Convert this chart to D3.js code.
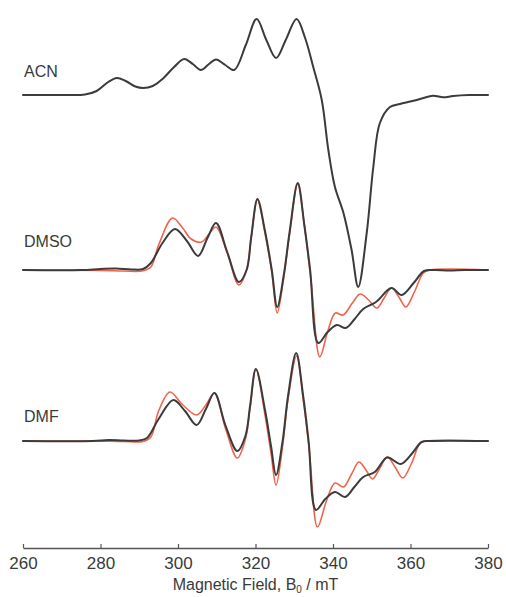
<!DOCTYPE html>
<html>
<head>
<meta charset="utf-8">
<script src="https://cdn.jsdelivr.net/npm/d3@7/dist/d3.min.js"></script>
<style>
  html, body { margin: 0; padding: 0; background: #ffffff; }
  svg { display: block; }
  text { font-family: "Liberation Sans", Arial, Helvetica, sans-serif; fill: #3a3a3a; }
</style>
</head>
<body>
<svg id="chart" width="506" height="597"></svg>
<script>
// ---------- data (field in mT, signal in arbitrary units relative to each trace's baseline) ----------
const xTicks = [260, 280, 300, 320, 340, 360, 380];
const solvents = ["ACN", "DMSO", "DMF"];
const offsets = [0, -1.75, -3.46];

const acnExp = [
  [260,0],[270,0],[276,0.005],[279,0.04],[282,0.13],[284.2,0.17],[286.5,0.14],[289,0.085],[291,0.07],
  [293.5,0.09],[296,0.16],[299,0.28],[301.6,0.36],[303.8,0.31],[305.9,0.25],[308,0.31],[309.8,0.355],
  [312.2,0.30],[314.5,0.25],[317.5,0.50],[320.3,0.76],[322.8,0.55],[325.3,0.37],[327.8,0.55],[330.6,0.76],
  [332.8,0.57],[334.9,0.28],[337.1,-0.05],[338.8,-0.55],[340.5,-0.92],[342.7,-1.18],[344.8,-1.55],
  [346.5,-1.92],[348.7,-1.38],[350.4,-0.72],[352.1,-0.28],[354.7,-0.12],[357.3,-0.09],[361.6,-0.05],
  [365.8,-0.007],[368.4,-0.023],[371,-0.01],[375,0],[380,0]
];

const dmsoExp = [
  [260,0],[275,0],[280,0.01],[284,0.015],[288,0.005],[291,0.01],[293,0.07],[296,0.27],[299.2,0.41],
  [302.3,0.29],[305.2,0.14],[307.6,0.32],[309.8,0.47],[312.7,0.18],[315.7,-0.12],[317.7,0.0],[318.9,0.33],
  [320.5,0.71],[322.4,0.4],[324.2,0.0],[325.6,-0.37],[327.3,-0.05],[328.8,0.38],[330.9,0.87],[332.6,0.45],
  [334.1,0.0],[336.2,-0.73],[338.6,-0.62],[341,-0.55],[343.3,-0.58],[345.6,-0.49],[347.8,-0.39],
  [351.1,-0.32],[355.1,-0.18],[357.7,-0.25],[360.8,-0.13],[363.5,-0.01],[366,0],[370,-0.005],[374,0],[380,0]
];

const dmsoSim = [
  [260,0],[280,-0.005],[286,-0.01],[291,-0.008],[293,0.03],[295,0.25],[298.6,0.52],[301.2,0.42],
  [303.4,0.31],[306.1,0.28],[308,0.36],[309.8,0.43],[312.7,0.17],[315.7,-0.15],[317.7,0.0],[318.9,0.33],
  [320.5,0.70],[322.4,0.38],[324.2,-0.02],[325.6,-0.43],[327.3,-0.07],[328.8,0.36],[330.9,0.86],
  [332.6,0.45],[334.3,-0.1],[336.6,-0.87],[338.6,-0.62],[340.6,-0.43],[342.6,-0.45],[345,-0.33],
  [347,-0.24],[349.2,-0.30],[351.3,-0.38],[353.2,-0.28],[355.1,-0.18],[357,-0.27],[358.8,-0.37],
  [361,-0.22],[363.3,-0.03],[365,0],[380,0]
];

const dmfExp = [
  [260,0],[278,0],[282,0.01],[286,0.005],[290,0.005],[292,0.03],[295,0.22],[298.8,0.41],[301.8,0.30],
  [304.8,0.16],[307.2,0.32],[309.4,0.48],[312.3,0.15],[315.3,-0.10],[317.4,0.05],[318.6,0.35],
  [320.1,0.72],[322.5,0.3],[324.0,-0.05],[325.3,-0.34],[327.0,0.0],[328.4,0.45],[330.5,0.88],
  [332.3,0.45],[333.7,0.0],[335.6,-0.69],[338,-0.58],[340.5,-0.51],[343.1,-0.56],[345.5,-0.46],
  [347.8,-0.36],[350.8,-0.31],[354,-0.165],[357.5,-0.23],[360.5,-0.12],[362.9,-0.01],[365,0],[380,0]
];

const dmfSim = [
  [260,0],[278,0],[286,-0.005],[291,-0.005],[293,0.04],[295,0.3],[297.9,0.49],[301,0.37],
  [304.8,0.26],[307.2,0.36],[309.4,0.48],[312.3,0.12],[315.3,-0.17],[317.4,0.02],[318.6,0.33],
  [320.1,0.72],[322.5,0.25],[324.0,-0.12],[325.3,-0.44],[327.0,-0.05],[328.4,0.42],[330.6,0.85],
  [332.3,0.42],[333.9,-0.1],[336.0,-0.86],[338.3,-0.6],[340.5,-0.42],[342.7,-0.46],[344.8,-0.33],
  [346.7,-0.21],[348.5,-0.29],[350.2,-0.38],[352.1,-0.27],[354,-0.157],[356,-0.26],[358,-0.37],
  [360.3,-0.22],[362.5,-0.02],[364,0],[380,0]
];

// ---------- scales ----------
const svg = d3.select("#chart");
const x = d3.scaleLinear().domain([260, 380]).range([23, 488]);
const y = d3.scaleLinear().domain([-4.53, 0.95]).range([548, 0]);

const line = (offset) => d3.line()
  .x(d => x(d[0]))
  .y(d => y(d[1] + offset))
  .curve(d3.curveCatmullRom.alpha(0.5));

const traces = [
  { data: dmsoSim, offset: offsets[1], color: "#f2634c", width: 1.6 },
  { data: dmfSim,  offset: offsets[2], color: "#f2634c", width: 1.6 },
  { data: acnExp,  offset: offsets[0], color: "#3b3b3b", width: 2 },
  { data: dmsoExp, offset: offsets[1], color: "#3b3b3b", width: 2 },
  { data: dmfExp,  offset: offsets[2], color: "#3b3b3b", width: 2 }
];

svg.selectAll("path.trace").data(traces).enter().append("path")
  .attr("class", "trace")
  .attr("fill", "none")
  .attr("stroke", d => d.color)
  .attr("stroke-width", d => d.width)
  .attr("stroke-linejoin", "round")
  .attr("stroke-linecap", "round")
  .attr("d", d => line(d.offset)(d.data));

// solvent labels
const labelDy = [-18, -23, -19];
svg.selectAll("text.solvent").data(solvents).enter().append("text")
  .attr("class", "solvent")
  .attr("x", x(260) + 1)
  .attr("y", (d, i) => y(offsets[i]) + labelDy[i])
  .attr("font-size", 16)
  .text(d => d);

// x axis
const axis = d3.axisBottom(x).tickValues(xTicks).tickSizeInner(-4).tickSizeOuter(0).tickPadding(9)
  .tickFormat(d3.format("d"));
const gx = svg.append("g").attr("transform", `translate(0,${y.range()[0]})`).call(axis);
gx.select(".domain").attr("stroke", "#555").attr("stroke-width", 1.3);
gx.selectAll(".tick line").attr("stroke", "#555").attr("stroke-width", 1.2);
gx.selectAll(".tick text")
  .attr("font-size", 17)
  .attr("font-family", "'Liberation Sans', Arial, sans-serif")
  .attr("fill", "#3a3a3a");

// axis title
const title = svg.append("text")
  .attr("x", (x.range()[0] + x.range()[1]) / 2)
  .attr("y", 590)
  .attr("text-anchor", "middle")
  .attr("font-size", 16);
title.append("tspan").text("Magnetic Field, B");
title.append("tspan").attr("font-size", 10).attr("dy", 3).text("0");
title.append("tspan").attr("dy", -3).text(" / mT");
</script>
</body>
</html>
